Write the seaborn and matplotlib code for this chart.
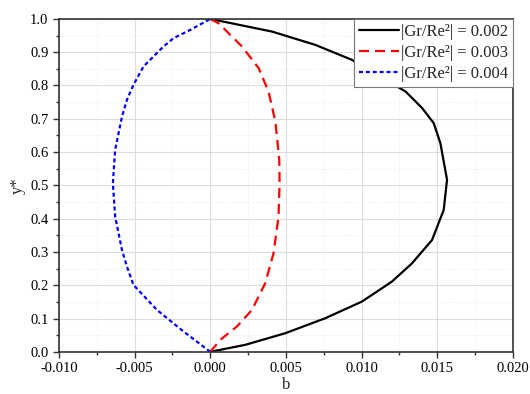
import matplotlib
matplotlib.use("Agg")
import matplotlib.pyplot as plt
from matplotlib.ticker import MultipleLocator, FormatStrFormatter
import seaborn as sns
import pandas as pd

# values
y_002 = [0.0, 0.021, 0.056, 0.101, 0.151, 0.211, 0.266, 0.336, 0.426, 0.517,
         0.627, 0.687, 0.732, 0.782, 0.877, 0.922, 0.962, 1.0]
b_002 = [0.0, 0.00231, 0.00496, 0.0076, 0.01002, 0.012, 0.01333, 0.01465, 0.01542, 0.01564,
         0.0152, 0.01476, 0.0140, 0.0129, 0.00936, 0.00694, 0.00408, 0.0]

y_003 = [0.0, 0.036, 0.076, 0.126, 0.206, 0.296, 0.406, 0.507, 0.577, 0.692,
         0.782, 0.852, 0.917, 0.987, 1.0]
b_003 = [0.0, 0.00066, 0.00176, 0.00276, 0.00363, 0.00418, 0.00451, 0.00458, 0.00456, 0.0043,
         0.00385, 0.0032, 0.0021, 0.00055, 0.0]

y_004 = [0.0, 0.061, 0.126, 0.201, 0.256, 0.306, 0.406, 0.507, 0.607, 0.706, 0.757,
         0.802, 0.857, 0.917, 0.942, 0.967, 1.0]
b_004 = [0.0, -0.00176, -0.00352, -0.00507, -0.0055, -0.00583, -0.00628, -0.00643, -0.00628,
         -0.00583, -0.0055, -0.00507, -0.00441, -0.00309, -0.00243, -0.00132, 0.0]

labels = ["|Gr/Re²| = 0.002", "|Gr/Re²| = 0.003", "|Gr/Re²| = 0.004"]

sns.set_style("white")
plt.rcParams['font.family'] = ['Liberation Serif', 'DejaVu Serif']

fig = plt.figure(figsize=(5.3, 3.94), dpi=100)
ax = fig.add_axes([0.111, 0.107, 0.857, 0.845])

# one dataframe per curve, keep point order (curves are not functions of b)
curves = [
    (b_002, y_002, labels[0], "black", None),
    (b_003, y_003, labels[1], "red", (4.5, 2.7)),
    (b_004, y_004, labels[2], "blue", (1.8, 1.3)),
]
for b, y, lab, col, dash in curves:
    df = pd.DataFrame({"b": b, "y": y})
    sns.lineplot(data=df, x="b", y="y", sort=False, estimator=None,
                 color=col, lw=1.6, label=lab, ax=ax)
    if dash is not None:
        ax.lines[-1].set_dashes(dash)

ax.set_xlim(-0.010, 0.020)
ax.set_ylim(0.0, 1.0)
ax.xaxis.set_major_locator(MultipleLocator(0.005))
ax.xaxis.set_minor_locator(MultipleLocator(0.0025))
ax.yaxis.set_major_locator(MultipleLocator(0.1))
ax.yaxis.set_minor_locator(MultipleLocator(0.05))
ax.xaxis.set_major_formatter(FormatStrFormatter("%.3f"))
ax.yaxis.set_major_formatter(FormatStrFormatter("%.1f"))

ax.grid(which="major", color="#dddddd", lw=0.8, ls="-")
ax.grid(which="minor", color="#e8e8e8", lw=0.6, ls=":")
ax.set_axisbelow(True)

ax.tick_params(which="major", direction="out", length=4, width=1, labelsize=10.5,
               bottom=True, left=True, top=False, right=False, colors="#333333", labelcolor="black")
ax.tick_params(which="minor", direction="out", length=2.5, width=1,
               bottom=True, left=True, top=False, right=False, colors="#333333")
for s in ax.spines.values():
    s.set_color("#333333")
    s.set_linewidth(1.2)

ax.set_xlabel("b", fontsize=12, labelpad=1)
ax.set_ylabel("y*", fontsize=12, labelpad=3)

leg = ax.legend(loc="upper right", borderaxespad=0, fontsize=12, handlelength=2.4,
                handletextpad=0.1, labelspacing=0.3, fancybox=False, framealpha=1,
                edgecolor="#777777", borderpad=0.3)
leg.get_frame().set_linewidth(0.8)

fig.savefig("out.png", dpi=100)
